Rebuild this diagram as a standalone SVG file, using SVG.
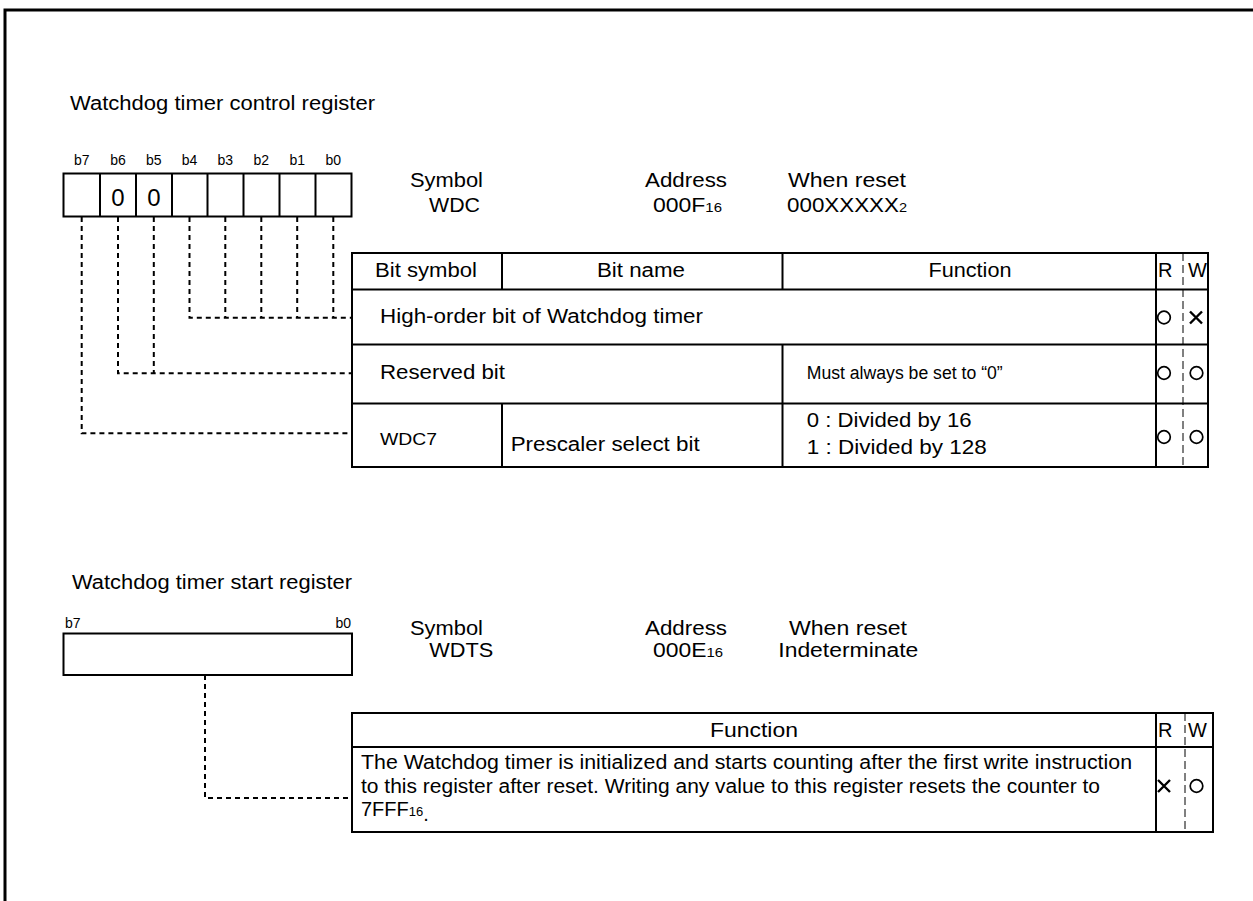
<svg xmlns="http://www.w3.org/2000/svg" width="1253" height="901" viewBox="0 0 1253 901">
<style>
.t{font-family:"Liberation Sans",Arial,Helvetica,sans-serif;font-size:20px;fill:#000}
.sm{font-size:14px}
.sub{font-size:13px}
.c{text-anchor:middle}
.e{text-anchor:end}
.ln{stroke:#000;stroke-width:2;fill:none}
.dash{stroke:#000;stroke-width:2;stroke-dasharray:5 4;fill:none}
.rw{stroke:#000;stroke-width:1;stroke-dasharray:8 4;fill:none}
.sym{stroke:#000;stroke-width:1.7;fill:none}
.x{stroke:#000;stroke-width:2.4;fill:none}
</style>
<rect x="0" y="0" width="1253" height="901" fill="#fff"/>
<path d="M5,905 V10 H1260" stroke="#000" stroke-width="3" fill="none"/>

<g id="title-wdc"><text class="t" x="70" y="110" textLength="305" lengthAdjust="spacingAndGlyphs">Watchdog timer control register</text></g>

<g id="reg-wdc">
<rect class="ln" x="63.5" y="173.5" width="288" height="43"/>
<path class="ln" d="M100,173.5V216.5M136,173.5V216.5M172,173.5V216.5M207.5,173.5V216.5M243.5,173.5V216.5M279.5,173.5V216.5M315.5,173.5V216.5"/>
<g class="t sm c">
<text x="81.7" y="165">b7</text><text x="118" y="165">b6</text><text x="153.8" y="165">b5</text><text x="189.5" y="165">b4</text>
<text x="225.3" y="165">b3</text><text x="261.3" y="165">b2</text><text x="297.2" y="165">b1</text><text x="333.3" y="165">b0</text>
</g>
<text class="t c" x="118" y="205.5" style="font-size:24px">0</text>
<text class="t c" x="154" y="205.5" style="font-size:24px">0</text>
</g>

<g id="info-wdc">
<text class="t" x="410" y="187" textLength="73" lengthAdjust="spacingAndGlyphs">Symbol</text>
<text class="t" x="429" y="211.5" textLength="51" lengthAdjust="spacingAndGlyphs">WDC</text>
<text class="t" x="645" y="187" textLength="82" lengthAdjust="spacingAndGlyphs">Address</text>
<text class="t" x="653" y="211.5" textLength="69" lengthAdjust="spacingAndGlyphs">000F<tspan class="sub">16</tspan></text>
<text class="t" x="788" y="187" textLength="118" lengthAdjust="spacingAndGlyphs">When reset</text>
<text class="t" x="787" y="211.5" textLength="120" lengthAdjust="spacingAndGlyphs">000XXXXX<tspan class="sub">2</tspan></text>
</g>

<g id="table-wdc">
<rect class="ln" x="352" y="253" width="856" height="214"/>
<path class="ln" d="M352,289.5H1208M352,344.5H1208M352,403.5H1208M502,253V289.5M502,403.5V467M782.5,253V289.5M782.5,344.5V467M1156,253V467"/>
<path class="rw" d="M1183,253V467"/>
<text class="t" x="375" y="277" textLength="102" lengthAdjust="spacingAndGlyphs">Bit symbol</text>
<text class="t c" x="641" y="277" textLength="88" lengthAdjust="spacingAndGlyphs">Bit name</text>
<text class="t c" x="970" y="277" textLength="83" lengthAdjust="spacingAndGlyphs">Function</text>
<text class="t" x="1158" y="277">R</text>
<text class="t" x="1188" y="277">W</text>
<text class="t" x="380" y="323" textLength="323" lengthAdjust="spacingAndGlyphs">High-order bit of Watchdog timer</text>
<text class="t" x="380" y="379" textLength="125" lengthAdjust="spacingAndGlyphs">Reserved bit</text>
<text class="t" x="806.7" y="379" style="font-size:18px" textLength="196" lengthAdjust="spacingAndGlyphs">Must always be set to “0”</text>
<text class="t" x="380" y="445" style="font-size:17px" textLength="57" lengthAdjust="spacingAndGlyphs">WDC7</text>
<text class="t" x="510.7" y="450.5" textLength="189" lengthAdjust="spacingAndGlyphs">Prescaler select bit</text>
<text class="t" x="806.7" y="426.5" textLength="165" lengthAdjust="spacingAndGlyphs">0 : Divided by 16</text>
<text class="t" x="806.7" y="453.5" textLength="180" lengthAdjust="spacingAndGlyphs">1 : Divided by 128</text>
<circle class="sym" cx="1164" cy="317.5" r="6.3"/>
<path class="x" d="M1190,311.5L1202,323.5M1202,311.5L1190,323.5"/>
<circle class="sym" cx="1164" cy="373" r="6.3"/>
<circle class="sym" cx="1196.5" cy="373" r="6.3"/>
<circle class="sym" cx="1164" cy="437" r="6.3"/>
<circle class="sym" cx="1196.5" cy="437" r="6.3"/>
</g>

<g id="title-wdts"><text class="t" x="72" y="589" textLength="280" lengthAdjust="spacingAndGlyphs">Watchdog timer start register</text></g>

<g id="reg-wdts">
<rect class="ln" x="63.5" y="633.5" width="288.5" height="41.5"/>
<text class="t sm" x="65" y="628">b7</text>
<text class="t sm e" x="351" y="628">b0</text>
</g>

<g id="info-wdts">
<text class="t" x="410" y="635" textLength="73" lengthAdjust="spacingAndGlyphs">Symbol</text>
<text class="t" x="429.3" y="657" textLength="64" lengthAdjust="spacingAndGlyphs">WDTS</text>
<text class="t" x="645" y="635" textLength="82" lengthAdjust="spacingAndGlyphs">Address</text>
<text class="t" x="653" y="657" textLength="70" lengthAdjust="spacingAndGlyphs">000E<tspan class="sub">16</tspan></text>
<text class="t" x="789" y="635" textLength="118" lengthAdjust="spacingAndGlyphs">When reset</text>
<text class="t" x="778.3" y="657" textLength="140" lengthAdjust="spacingAndGlyphs">Indeterminate</text>
</g>

<g id="table-wdts">
<rect class="ln" x="352" y="713" width="861" height="119"/>
<path class="ln" d="M352,747H1213M1156,713V832"/>
<path class="rw" d="M1185,713V832"/>
<text class="t c" x="754" y="737" textLength="88" lengthAdjust="spacingAndGlyphs">Function</text>
<text class="t" x="1158" y="737">R</text>
<text class="t" x="1188" y="737">W</text>
<text class="t" x="361" y="769" textLength="771" lengthAdjust="spacingAndGlyphs">The Watchdog timer is initialized and starts counting after the first write instruction</text>
<text class="t" x="361" y="792.5" textLength="739" lengthAdjust="spacingAndGlyphs">to this register after reset. Writing any value to this register resets the counter to</text>
<text class="t" x="361" y="816">7FFF<tspan class="sub">16</tspan><tspan dy="5">.</tspan></text>
<path class="x" d="M1158,780L1170,792M1170,780L1158,792"/>
<circle class="sym" cx="1196.5" cy="786" r="6.3"/>
</g>

<g id="connectors">
<path class="dash" d="M189.5,217V317.7H352M225.3,217V317.7M261.3,217V317.7M297.2,217V317.7M333.3,217V317.7"/>
<path class="dash" d="M118,217V373.3H352M153.8,217V373.3"/>
<path class="dash" d="M81.7,217V433.3H352"/>
<path class="dash" d="M205,675V798H352"/>
</g>
</svg>
